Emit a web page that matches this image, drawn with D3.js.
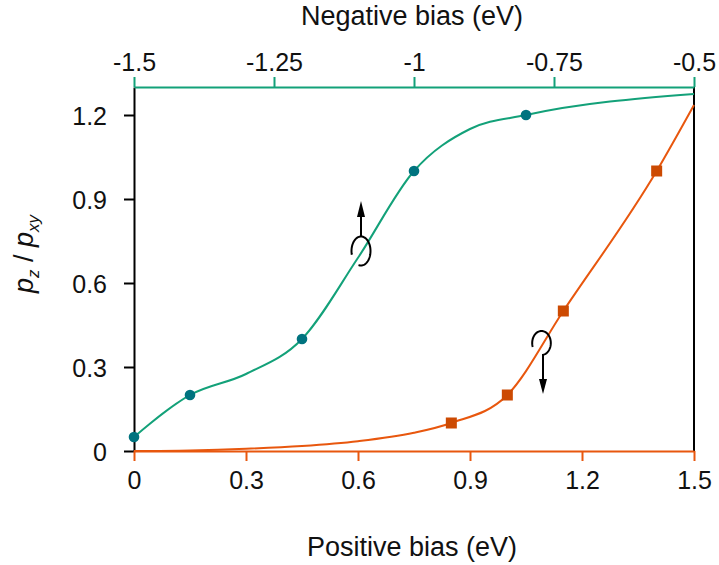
<!DOCTYPE html>
<html>
<head>
<meta charset="utf-8">
<script src="https://cdn.jsdelivr.net/npm/d3@7"></script>
<style>
  body { margin: 0; background: #fff; }
  svg { font-family: "Liberation Sans", Arial, sans-serif; }
</style>
</head>
<body>
<svg id="chart" width="719" height="565"></svg>
<script>
// tick values
const bottomTicks = [0, 0.3, 0.6, 0.9, 1.2, 1.5];
const bottomLabels = ['0', '0.3', '0.6', '0.9', '1.2', '1.5'];
const topTicks = [-1.5, -1.25, -1, -0.75, -0.5];
const topLabels = ['-1.5', '-1.25', '-1', '-0.75', '-0.5'];
const leftTicks = [0, 0.3, 0.6, 0.9, 1.2];
const leftLabels = ['0', '0.3', '0.6', '0.9', '1.2'];

// negative bias series (top axis)
const negX = [-1.5, -1.4, -1.2, -1.0, -0.8];
const negY = [0.05, 0.2, 0.4, 1.0, 1.2];
const negFitX = [-1.5, -1.4, -1.3, -1.2, -1.1, -1.0, -0.9, -0.8, -0.5];
const negFitY = [0.05, 0.2, 0.275, 0.4, 0.69, 1.0, 1.15, 1.2, 1.275];

// positive bias series (bottom axis)
const posX = [0.85, 1.0, 1.15, 1.4];
const posY = [0.1, 0.2, 0.5, 1.0];
const posFitX = [0, 0.15, 0.3, 0.45, 0.6, 0.75, 0.85, 1.0, 1.15, 1.4, 1.5];
const posFitY = [0, 0.002, 0.008, 0.018, 0.035, 0.065, 0.1, 0.2, 0.5, 1.0, 1.236];

const greenLine = '#13a179', tealDot = '#00737f';
const orangeLine = '#e8570e', orangeSq = '#cc4a02';

const margin = { left: 134, right: 25, top: 87, bottom: 114 };
const W = 719, H = 565;
const width = W - margin.left - margin.right;
const height = H - margin.top - margin.bottom;

const svg = d3.select('#chart');
const g = svg.append('g').attr('transform', `translate(${margin.left},${margin.top})`);

const xBottom = d3.scaleLinear().domain([0, 1.5]).range([0, width]);
const xTop = d3.scaleLinear().domain([-1.5, -0.5]).range([0, width]);
const y = d3.scaleLinear().domain([0, 1.3]).range([height, 0]);

function styleAxis(sel, color) {
    sel.selectAll('.domain').attr('stroke', color).attr('stroke-width', 2);
    sel.selectAll('.tick line').attr('stroke', color).attr('stroke-width', 2);
    sel.selectAll('.tick text').attr('fill', '#111').style('font-size', '25px');
}

// right border
g.append('line')
    .attr('x1', width).attr('x2', width)
    .attr('y1', 0).attr('y2', height)
    .attr('stroke', '#000').attr('stroke-width', 2);

const leftAxis = g.append('g')
    .call(d3.axisLeft(y).tickValues(leftTicks).tickFormat((d, i) => leftLabels[i])
        .tickSizeInner(10).tickSizeOuter(0).tickPadding(17));
styleAxis(leftAxis, '#000');
leftAxis.selectAll('.tick text').attr('dy', '0.36em');

const topAxis = g.append('g')
    .call(d3.axisTop(xTop).tickValues(topTicks).tickFormat((d, i) => topLabels[i])
        .tickSizeInner(10).tickSizeOuter(0).tickPadding(6));
styleAxis(topAxis, greenLine);

const bottomAxis = g.append('g')
    .attr('transform', `translate(0,${height})`)
    .call(d3.axisBottom(xBottom).tickValues(bottomTicks).tickFormat((d, i) => bottomLabels[i])
        .tickSizeInner(10).tickSizeOuter(0).tickPadding(10));
styleAxis(bottomAxis, orangeLine);

// fitted curves
const negFit = negFitX.map((d, i) => [d, negFitY[i]]);
const posFit = posFitX.map((d, i) => [d, posFitY[i]]);

g.append('path')
    .datum(negFit)
    .attr('fill', 'none')
    .attr('stroke', greenLine)
    .attr('stroke-width', 2)
    .attr('d', d3.line().x(d => xTop(d[0])).y(d => y(d[1])).curve(d3.curveMonotoneX));

g.append('path')
    .datum(posFit)
    .attr('fill', 'none')
    .attr('stroke', orangeLine)
    .attr('stroke-width', 2)
    .attr('d', d3.line().x(d => xBottom(d[0])).y(d => y(d[1])).curve(d3.curveMonotoneX));

// markers
g.selectAll('.dot')
    .data(negX.map((d, i) => [d, negY[i]]))
    .join('circle')
    .attr('class', 'dot')
    .attr('cx', d => xTop(d[0]))
    .attr('cy', d => y(d[1]))
    .attr('r', 5.3)
    .attr('fill', tealDot);

g.selectAll('.sq')
    .data(posX.map((d, i) => [d, posY[i]]))
    .join('rect')
    .attr('class', 'sq')
    .attr('x', d => xBottom(d[0]) - 5.5)
    .attr('y', d => y(d[1]) - 5.5)
    .attr('width', 11)
    .attr('height', 11)
    .attr('fill', orangeSq);

// loop + arrow annotations
function loopArc(cx, cy, rx, ry, a0, a1) {
    const pts = d3.range(a0, a1 + 1, 4).map(a => {
        const t = a * Math.PI / 180;
        return [cx + rx * Math.cos(t), cy + ry * Math.sin(t)];
    });
    return d3.line()(pts);
}

// green: loop, arrow pointing up
svg.append('path')
    .attr('d', loopArc(361, 251, 9.5, 14.5, 165, 465))
    .attr('fill', 'none').attr('stroke', '#000').attr('stroke-width', 2);
svg.append('line')
    .attr('x1', 361).attr('x2', 361).attr('y1', 237).attr('y2', 215)
    .attr('stroke', '#000').attr('stroke-width', 2);
svg.append('path')
    .attr('d', 'M361,201 L357,217 L365,217 Z').attr('fill', '#000');

// orange: loop, arrow pointing down
svg.append('path')
    .attr('d', loopArc(541.5, 343, 9.3, 12, 160, 445))
    .attr('fill', 'none').attr('stroke', '#000').attr('stroke-width', 2);
svg.append('line')
    .attr('x1', 543).attr('x2', 543).attr('y1', 354).attr('y2', 381)
    .attr('stroke', '#000').attr('stroke-width', 2);
svg.append('path')
    .attr('d', 'M543,394 L539,379 L547,379 Z').attr('fill', '#000');

// axis titles
svg.append('text')
    .attr('x', 412).attr('y', 25)
    .attr('text-anchor', 'middle')
    .style('font-size', '27px').attr('fill', '#111')
    .text('Negative bias (eV)');

svg.append('text')
    .attr('x', 412).attr('y', 556)
    .attr('text-anchor', 'middle')
    .style('font-size', '27px').attr('fill', '#111')
    .text('Positive bias (eV)');

const yl = svg.append('text')
    .attr('transform', 'translate(33,254) rotate(-90)')
    .attr('text-anchor', 'middle')
    .style('font-size', '27px').attr('fill', '#111');
yl.append('tspan').style('font-style', 'italic').text('p');
yl.append('tspan').style('font-style', 'italic').style('font-size', '17px').attr('dy', 6).text('z');
yl.append('tspan').attr('dy', -6).text(' / ');
yl.append('tspan').style('font-style', 'italic').text('p');
yl.append('tspan').style('font-style', 'italic').style('font-size', '17px').attr('dy', 6).text('xy');
</script>
</body>
</html>
